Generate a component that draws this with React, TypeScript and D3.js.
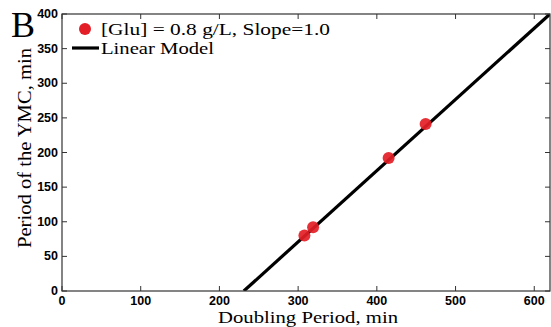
import React from "react";
import * as d3 from "d3";

const pointX = [308, 319, 415, 462];
const pointY = [80, 92, 192, 241];
const lineX = [231, 620];
const lineY = [0, 400];
const xTicks = [0, 100, 200, 300, 400, 500, 600];
const yTicks = [0, 50, 100, 150, 200, 250, 300, 350, 400];
const legendLabels = ["[Glu] = 0.8 g/L, Slope=1.0", "Linear Model"];

export default function App() {
  const W = 551, H = 327;
  const left = 62, right = 550, top = 14, bottom = 291;
  const x = d3.scaleLinear().domain([0, 620]).range([left, right]);
  const y = d3.scaleLinear().domain([0, 400]).range([bottom, top]);
  const line = d3.line<number>().x((d) => x(lineX[d])).y((d) => y(lineY[d]));
  const tickFont = "'Liberation Sans', Arial, sans-serif";
  const serif = "'Liberation Serif', 'Times New Roman', serif";
  const axisColor = "#333";
  return (
    <svg width={W} height={H} style={{ position: "absolute", left: 0, top: 0, background: "#fff" }}>
      <defs>
        <clipPath id="plot">
          <rect x={left} y={top} width={right - left} height={bottom - top} />
        </clipPath>
      </defs>
      <path d={line([0, 1]) || ""} stroke="#000" strokeWidth={3.2} fill="none" clipPath="url(#plot)" />
      {pointX.map((px, i) => (
        <circle key={i} cx={x(px)} cy={y(pointY[i])} r={6} fill="#e41e26" fillOpacity={0.92} />
      ))}
      <rect x={left} y={top} width={right - left} height={bottom - top} fill="none" stroke={axisColor} strokeWidth={1.2} />
      {xTicks.map((t) => (
        <g key={"x" + t}>
          <line x1={x(t)} x2={x(t)} y1={bottom} y2={bottom - 5} stroke={axisColor} />
          <line x1={x(t)} x2={x(t)} y1={top} y2={top + 5} stroke={axisColor} />
          <text x={x(t)} y={bottom + 14} textAnchor="middle" fontFamily={tickFont} fontWeight="bold" fontSize={12.5}>{t}</text>
        </g>
      ))}
      {yTicks.map((t) => (
        <g key={"y" + t}>
          <line x1={left} x2={left + 5} y1={y(t)} y2={y(t)} stroke={axisColor} />
          <line x1={right} x2={right - 5} y1={y(t)} y2={y(t)} stroke={axisColor} />
          <text x={left - 4} y={y(t) + 4} textAnchor="end" fontFamily={tickFont} fontWeight="bold" fontSize={12.5}>{t}</text>
        </g>
      ))}
      <text x={218} y={323} fontFamily={serif} fontSize={17} textLength={180} lengthAdjust="spacingAndGlyphs">Doubling Period, min</text>
      <text transform={`translate(31, 248) rotate(-90)`} fontFamily={serif} fontSize={18} textLength={200} lengthAdjust="spacingAndGlyphs">Period of the YMC, min</text>
      <text x={11} y={37} fontFamily={serif} fontSize={36}>B</text>
      <circle cx={85} cy={29} r={6} fill="#e41e26" />
      <text x={101} y={34.5} fontFamily={serif} fontSize={17} textLength={229} lengthAdjust="spacingAndGlyphs">{legendLabels[0]}</text>
      <line x1={72} x2={99} y1={48} y2={48} stroke="#000" strokeWidth={3.2} />
      <text x={101} y={54} fontFamily={serif} fontSize={17} textLength={113} lengthAdjust="spacingAndGlyphs">{legendLabels[1]}</text>
    </svg>
  );
}
